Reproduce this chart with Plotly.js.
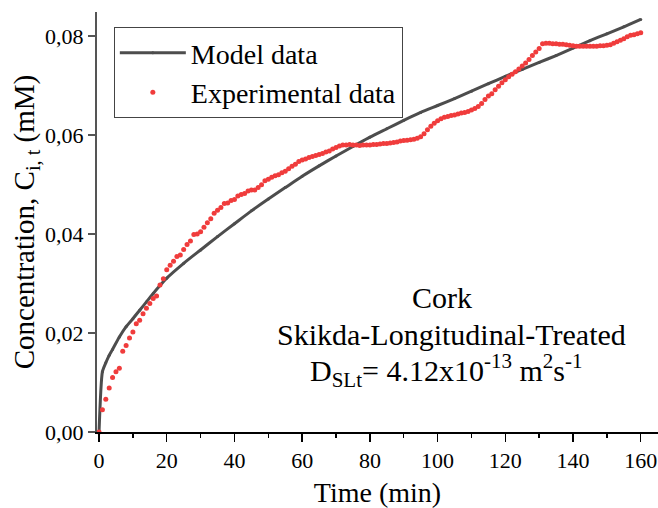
<!DOCTYPE html>
<html>
<head>
<meta charset="utf-8">
<script src="https://cdn.plot.ly/plotly-3.0.1.min.js"></script>
<style>html,body{margin:0;padding:0;background:#fff;}#chart{width:658px;height:508px;}</style>
</head>
<body>
<div id="chart"></div>
<script>
// Model data (time in min, concentration in mM)
var modelTime = [0,1,2,3,4,6,8,10,12,14,16,18,20,25,30,35,40,45,50,55,60,65,70,75,80,85,90,95,100,105,110,115,120,125,130,135,140,145,150,155,160];
var modelConc = [0,0.0122,0.0140,0.0155,0.0167,0.0192,0.0213,0.0229,0.0246,0.0263,0.0280,0.0296,0.0311,0.0341,0.0368,0.0395,0.0421,0.0447,0.0471,0.0494,0.0517,0.0538,0.0558,0.0577,0.0596,0.0613,0.0630,0.0646,0.0660,0.0674,0.0689,0.0704,0.0719,0.0733,0.0747,0.0761,0.0776,0.0791,0.0805,0.0819,0.0834];

// Experimental data
var expTime = [0,1,2,3,4,5,6,7,8,9,10,11,12,13,14,15,16,17,18,19,20,21,22,23,24,25,26,27,28,29,30,31,32,33,34,35,36,37,38,39,40,41,42,43,44,45,46,47,48,49,50,51,52,53,54,55,56,57,58,59,60,61,62,63,64,65,66,67,68,69,70,71,72,73,74,75,76,77,78,79,80,81,82,83,84,85,86,87,88,89,90,91,92,93,94,95,96,97,98,99,100,101,102,103,104,105,106,107,108,109,110,111,112,113,114,115,116,117,118,119,120,121,122,123,124,125,126,127,128,129,130,131,132,133,134,135,136,137,138,139,140,141,142,143,144,145,146,147,148,149,150,151,152,153,154,155,156,157,158,159,160];
var expConc = [0.0000,0.0045,0.0066,0.0089,0.0110,0.0122,0.0129,0.0163,0.0175,0.0190,
0.0202,0.0219,0.0226,0.0239,0.0250,0.0260,0.0270,0.0275,0.0297,0.0310,
0.0328,0.0337,0.0345,0.0355,0.0358,0.0369,0.0379,0.0386,0.0399,0.0400,
0.0405,0.0414,0.0423,0.0431,0.0442,0.0448,0.0454,0.0462,0.0463,0.0468,
0.0470,0.0477,0.0480,0.0482,0.0487,0.0489,0.0489,0.0494,0.0500,0.0508,
0.0511,0.0515,0.0518,0.0520,0.0524,0.0527,0.0532,0.0537,0.0541,0.0547,
0.0550,0.0552,0.0555,0.0557,0.0559,0.0561,0.0563,0.0566,0.0568,0.0572,
0.0575,0.0578,0.0580,0.0580,0.0581,0.0580,0.0580,0.0579,0.0580,0.0580,
0.0580,0.0581,0.0581,0.0582,0.0583,0.0583,0.0584,0.0585,0.0586,0.0588,
0.0589,0.0590,0.0591,0.0592,0.0594,0.0597,0.0603,0.0611,0.0618,0.0624,
0.0629,0.0633,0.0636,0.0638,0.0640,0.0641,0.0643,0.0645,0.0646,0.0648,
0.0651,0.0654,0.0658,0.0664,0.0672,0.0679,0.0684,0.0692,0.0699,0.0706,
0.0712,0.0718,0.0723,0.0728,0.0734,0.0740,0.0746,0.0753,0.0761,0.0768,
0.0775,0.0785,0.0786,0.0786,0.0785,0.0785,0.0784,0.0784,0.0783,0.0782,
0.0781,0.0780,0.0780,0.0780,0.0780,0.0780,0.0780,0.0780,0.0781,0.0781,
0.0782,0.0783,0.0786,0.0789,0.0792,0.0795,0.0799,0.0802,0.0803,0.0805,
0.0807];

var xTickVals = [0,20,40,60,80,100,120,140,160];
var yTickVals = [0,0.02,0.04,0.06,0.08];

var FONT = 'Liberation Serif, Times New Roman, serif';

var traces = [
  {
    x: modelTime, y: modelConc, name: 'Model data', type: 'scatter', mode: 'lines+markers',
    line: {color: '#4d4d4d', width: 3, shape: 'spline', smoothing: 0.6},
    marker: {color: '#4d4d4d', size: 3},
    cliponaxis: false
  },
  {
    x: expTime, y: expConc, name: 'Experimental data', type: 'scatter', mode: 'markers',
    marker: {color: '#f03c3c', size: 5},
    cliponaxis: false
  }
];

var layout = {
  width: 658, height: 508,
  margin: {l: 97, r: 0, t: 12, b: 76, pad: 0},
  paper_bgcolor: '#fff', plot_bgcolor: '#fff',
  separators: ',.',
  font: {family: FONT, color: '#000', size: 22},
  showlegend: true,
  legend: {
    x: 0.030, y: 0.964, xanchor: 'left', yanchor: 'top',
    bgcolor: '#fff', bordercolor: '#444', borderwidth: 1,
    font: {family: FONT, size: 28, color: '#000'},
    itemwidth: 66,
    tracegroupgap: 0
  },
  xaxis: {
    range: [-0.6, 165.1], showgrid: false, zeroline: false,
    showline: true, linecolor: '#000', linewidth: 1.5,
    tickmode: 'array', tickvals: xTickVals,
    ticks: 'outside', ticklen: 8, tickwidth: 1.5, tickcolor: '#000',
    minor: {dtick: 10, tick0: 0, ticks: 'outside', ticklen: 4, tickwidth: 1.5, tickcolor: '#000', showgrid: false},
    tickfont: {family: FONT, size: 22, color: '#000'},
    title: {text: 'Time (min)', font: {family: FONT, size: 28, color: '#000'}, standoff: 12},
    automargin: false
  },
  yaxis: {
    range: [0, 0.0849], showgrid: false, zeroline: false,
    showline: true, linecolor: '#555', linewidth: 2,
    tickmode: 'array', tickvals: yTickVals, tickformat: '.2f',
    ticks: 'outside', ticklen: 7, tickwidth: 1.5, tickcolor: '#555',
    tickfont: {family: FONT, size: 22, color: '#000'},
    title: {text: 'Concentration, C<sub>i, t</sub> (mM)', font: {family: FONT, size: 29, color: '#000'}, standoff: 2},
    automargin: false
  },
  annotations: [
    {xref: 'paper', yref: 'paper', x: (442 - 97) / 561, y: (432 - 297) / 420, xanchor: 'center', yanchor: 'middle',
     text: 'Cork', showarrow: false, font: {family: FONT, size: 30, color: '#000'}},
    {xref: 'paper', yref: 'paper', x: (451 - 97) / 561, y: (432 - 334) / 420, xanchor: 'center', yanchor: 'middle',
     text: 'Skikda-Longitudinal-Treated', showarrow: false, font: {family: FONT, size: 30, color: '#000'}},
    {xref: 'paper', yref: 'paper', x: (446 - 97) / 561, y: (432 - 370) / 420, xanchor: 'center', yanchor: 'middle',
     text: 'D<sub>SLt</sub>= 4.12x10<sup>-13</sup> m<sup>2</sup>s<sup>-1</sup>', showarrow: false, font: {family: FONT, size: 30, color: '#000'}}
  ]
};

Plotly.newPlot('chart', traces, layout, {staticPlot: true, displayModeBar: false});
</script>
</body>
</html>
